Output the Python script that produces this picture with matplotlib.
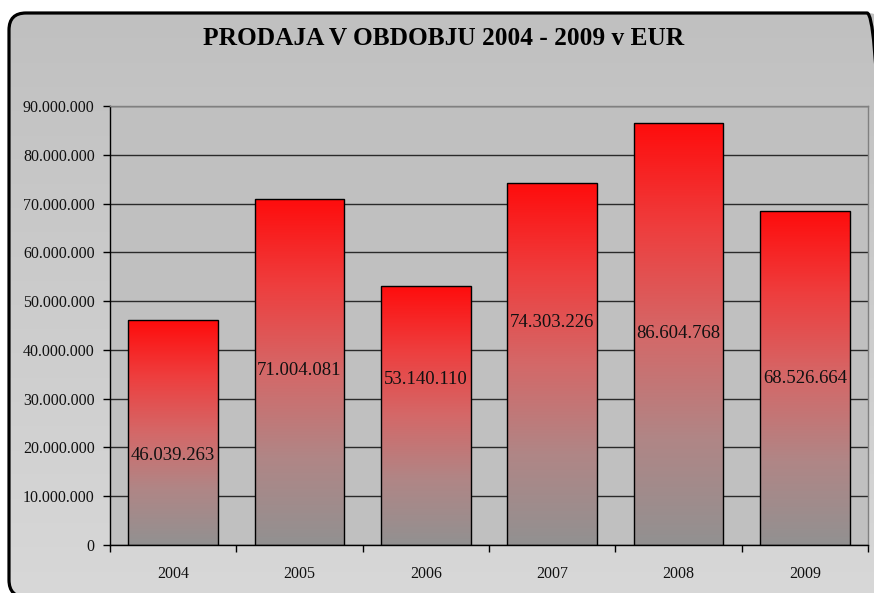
import numpy as np
import matplotlib
matplotlib.use("Agg")
import matplotlib.pyplot as plt
from matplotlib.patches import FancyBboxPatch
from matplotlib.ticker import FuncFormatter, MultipleLocator, FixedLocator

# data
years = ["2004", "2005", "2006", "2007", "2008", "2009"]
sales = [46039263, 71004081, 53140110, 74303226, 86604768, 68526664]
# where the value labels sit inside each bar (in EUR, data units)
label_heights = [18.45e6, 35.7e6, 33.9e6, 45.7e6, 43.3e6, 34.1e6]

title = "PRODAJA V OBDOBJU 2004 - 2009 v EUR"
serif = ["Liberation Serif", "DejaVu Serif"]

W, H = 874, 593
fig = plt.figure(figsize=(W / 100, H / 100), dpi=100)
fig.patch.set_facecolor("white")

# background: rounded frame with a light grey vertical gradient
ax_bg = fig.add_axes([0, 0, 1, 1])
ax_bg.axis("off")
fx0, fx1, fy_top, fy_bot = 9, 884, 13, 597
frame = FancyBboxPatch((fx0, H - fy_bot), fx1 - fx0, fy_bot - fy_top,
                       boxstyle="round,pad=0,rounding_size=17",
                       facecolor="none", edgecolor="black", linewidth=2.3, zorder=3)
ax_bg.add_patch(frame)
bg_grad = np.linspace(192, 216, 256)[:, None] / 255.0
bg_img = np.dstack([bg_grad, bg_grad, bg_grad])
im = ax_bg.imshow(bg_img, extent=[fx0, fx1, H - fy_bot, H - fy_top],
                  aspect="auto", zorder=1)
im.set_clip_path(frame)
ax_bg.set_xlim(0, W)
ax_bg.set_ylim(0, H)

fig.text(444 / W, 1 - 38.5 / H, title, ha="center", va="center",
         fontsize=18.3, fontweight="bold", family=serif)

# plot area
ax = fig.add_axes([110 / W, 1 - 545 / H, (868 - 110) / W, (545 - 106) / H])
ax.set_facecolor("#C0C0C0")

x = np.arange(len(years))
width = 0.71
# red-to-grey fill of the bars, top to bottom
stops = np.array([0.0, 0.25, 0.5, 0.75, 1.0])
stop_cols = np.array([[255, 12, 12], [238, 62, 62], [212, 104, 104],
                      [176, 134, 134], [146, 145, 145]]) / 255.0
t = np.linspace(0, 1, 256)
grad = np.stack([np.interp(t, stops, stop_cols[:, c]) for c in range(3)], axis=1)
grad = grad[:, None, :]

bars = ax.bar(x, sales, width=width, facecolor="none", edgecolor="black",
              linewidth=1.0, zorder=3)
for b, v in zip(bars, sales):
    x0 = b.get_x()
    gi = ax.imshow(grad, extent=[x0, x0 + width, 0, v], aspect="auto", zorder=2)
    gi.set_clip_path(b)

for xi, v, ly in zip(x, sales, label_heights):
    txt = f"{v:,}".replace(",", ".")
    ax.text(xi, ly, txt, ha="center", va="center", fontsize=13.5,
            family=serif, color="#111111", zorder=4)

ax.set_xlim(-0.5, len(years) - 0.5)
ax.set_ylim(0, 90e6)
ax.yaxis.set_major_locator(MultipleLocator(10e6))
ax.yaxis.set_major_formatter(FuncFormatter(lambda v, p: f"{int(v):,}".replace(",", ".")))
ax.yaxis.grid(True, color="#2a2a2a", linewidth=1.0)
ax.set_axisbelow(True)

ax.set_xticks(x)
ax.set_xticklabels(years)
ax.xaxis.set_minor_locator(FixedLocator(np.arange(-0.5, len(years), 1.0)))
ax.tick_params(axis="x", which="major", length=0, pad=15)
ax.tick_params(axis="x", which="minor", length=5, width=1, color="black")
ax.tick_params(axis="y", length=5, width=1, color="black", pad=6)
for lab in ax.get_xticklabels() + ax.get_yticklabels():
    lab.set_family(serif)
    lab.set_fontsize(11.5)
    lab.set_color("#111111")

ax.spines["left"].set_color("black")
ax.spines["bottom"].set_color("black")
ax.spines["top"].set_color("#808080")
ax.spines["right"].set_color("#808080")
for s in ax.spines.values():
    s.set_linewidth(1.0)

fig.savefig("out.png", dpi=100)
